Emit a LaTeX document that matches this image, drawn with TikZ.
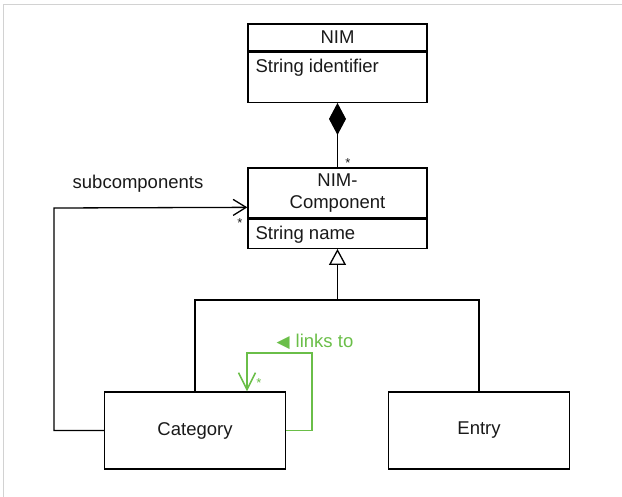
\documentclass[tikz,border=0pt]{standalone}
\usepackage{fontspec}
\setmainfont{Liberation Sans}
\newfontfamily\symfont{DejaVu Sans}
\usepackage{xcolor}
\usetikzlibrary{arrows.meta,positioning,calc}
\definecolor{linkgreen}{RGB}{106,190,72}

\begin{document}
\begin{tikzpicture}[x=1pt, y=-1pt,
    every node/.style={font=\fontsize{18.5}{22}\selectfont, text=black!90},
    classbox/.style={draw, line width=1.3pt, minimum width=179pt, inner sep=0pt, align=center},
    attrbox/.style={classbox, label={[anchor=north west, inner xsep=8pt, inner ysep=7pt, font=\fontsize{18.5}{22}\selectfont]north west:#1}},
    plainbox/.style={draw, line width=1.3pt, minimum width=181pt, minimum height=77pt},
    mult/.style={font=\fontsize{13}{14}\selectfont, inner sep=1pt},
    conn/.style={line width=1.3pt},
    link/.style={line width=1.5pt, draw=linkgreen}
  ]
    \useasboundingbox (0,0) rectangle (622,497);
    \draw[gray!35, line width=1pt] (3,497) -- (3,5) -- (622,5);

    % classes
    \node[classbox, minimum height=27pt] (nim) at (337.5,37.5) {NIM};
    \node[attrbox={String identifier}, minimum height=50pt, below=0pt of nim] (nimattr) {};

    \node[classbox, minimum height=50pt] (comp) at (337.5,193) {NIM-\\Component};
    \node[attrbox={String name}, minimum height=29pt, below=0pt of comp] (compattr) {};

    \node[plainbox] (cat)   at (195,430.5) {Category};
    \node[plainbox] (entry) at (479,430.5) {Entry};

    % composition
    \draw[conn, -{Diamond[length=32pt, width=17pt]}] (comp.north) -- (nimattr.south);
    \node[mult] (m1) at (348,163) {*};

    % generalization
    \coordinate (bus) at (337.5,300);
    \draw[conn, -{Triangle[open, length=16pt, width=17pt]}] (bus) -- (compattr.south);
    \draw[conn] (cat.north) |- (bus) -| (entry.north);

    % subcomponents
    \coordinate (subcorner) at (54,208);
    \coordinate (subtip) at ($(comp.north west)+(0,40)$);
    \draw[conn, -{Straight Barb[length=13pt, width=16pt]}] (cat.west) -| (subcorner) -- (subtip);
    \node (sublbl) at (138,184) {subcomponents};
    \node[mult] (m2) at (240,223) {*};

    % links to
    \coordinate (loopcorner) at (312,353);
    \coordinate (linktip) at ($(cat.north)+(52,0)$);
    \draw[link, -{Straight Barb[length=17pt, width=17pt]}] (cat.east) -| (loopcorner) -| (linktip);
    \node[mult, text=linkgreen] (m3) at (259,383) {*};
    \node[text=linkgreen] (linklbl) at (315,342) {{\symfont\fontsize{17}{18}\selectfont ◀}\hspace{6pt}links to};
  \end{tikzpicture}
\end{document}
